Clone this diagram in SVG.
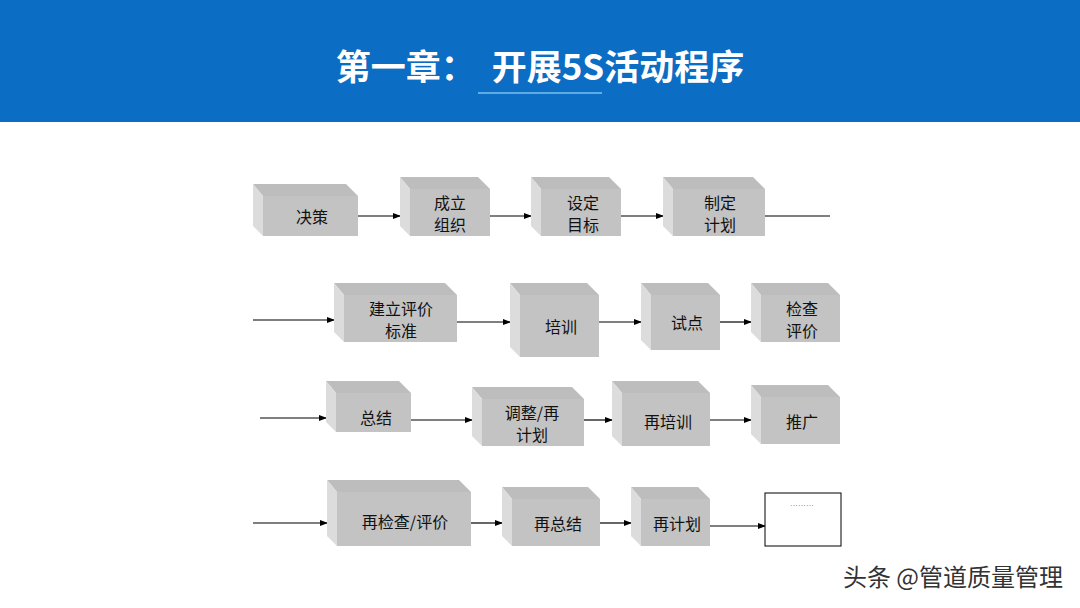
<svg xmlns="http://www.w3.org/2000/svg" width="1080" height="608" viewBox="0 0 1080 608">
<style>
.t{fill:#bdbdbd}.l{fill:#dcdcdc}.f{fill:#c3c3c3}
.tx{font-family:"Noto Sans CJK SC","Liberation Sans",sans-serif;font-size:16px;fill:#111;text-anchor:middle}
.c line{stroke:#000;stroke-width:1.2}
</style>
<defs>
<marker id="a" markerWidth="8" markerHeight="8" refX="7" refY="4" orient="auto" markerUnits="userSpaceOnUse"><path d="M0,1 L8,4 L0,7 Z" fill="#000"/></marker>
</defs>
<rect width="1080" height="608" fill="#fff"/>
<rect width="1080" height="122" fill="#0b6dc3"/>
<text x="540" y="80" text-anchor="middle" font-family="Noto Sans CJK SC,sans-serif" font-weight="bold" font-size="35" fill="#fff" xml:space="preserve">第一章：  开展5S活动程序</text>
<line x1="478" y1="93" x2="602" y2="93" stroke="#7fc0f0" stroke-width="1.5"/>
<g class="c">
<line x1="358" y1="216" x2="400" y2="216" marker-end="url(#a)"/>
<line x1="490" y1="216" x2="531" y2="216" marker-end="url(#a)"/>
<line x1="621" y1="216" x2="663" y2="216" marker-end="url(#a)"/>
<line x1="765" y1="216" x2="830" y2="216"/>
<line x1="253" y1="320" x2="334" y2="320" marker-end="url(#a)"/>
<line x1="457" y1="322" x2="510" y2="322" marker-end="url(#a)"/>
<line x1="599" y1="322" x2="641" y2="322" marker-end="url(#a)"/>
<line x1="720" y1="322" x2="751" y2="322" marker-end="url(#a)"/>
<line x1="260" y1="418" x2="326" y2="418" marker-end="url(#a)"/>
<line x1="411" y1="420" x2="472" y2="420" marker-end="url(#a)"/>
<line x1="584" y1="420" x2="612" y2="420" marker-end="url(#a)"/>
<line x1="710" y1="420" x2="751" y2="420" marker-end="url(#a)"/>
<line x1="253" y1="523" x2="327" y2="523" marker-end="url(#a)"/>
<line x1="471" y1="523" x2="502" y2="523" marker-end="url(#a)"/>
<line x1="600" y1="523" x2="631" y2="523" marker-end="url(#a)"/>
<line x1="710" y1="526" x2="765" y2="526" marker-end="url(#a)"/>
</g>
<g id="n1"><path class="t" d="M253,184H346L358,196H263Z"/><path class="l" d="M253,184L263,196V236L253,226Z"/><rect class="f" x="263" y="196" width="95" height="40"/><text class="tx" x="312" y="223">决策</text></g>
<g id="n2"><path class="t" d="M400,177H478L490,189H410Z"/><path class="l" d="M400,177L410,189V236L400,226Z"/><rect class="f" x="410" y="189" width="80" height="47"/><text class="tx" x="450" y="209">成立</text><text class="tx" x="450" y="231">组织</text></g>
<g id="n3"><path class="t" d="M531,177H609L621,189H541Z"/><path class="l" d="M531,177L541,189V236L531,226Z"/><rect class="f" x="541" y="189" width="80" height="47"/><text class="tx" x="583" y="209">设定</text><text class="tx" x="583" y="231">目标</text></g>
<g id="n4"><path class="t" d="M663,177H753L765,189H673Z"/><path class="l" d="M663,177L673,189V236L663,226Z"/><rect class="f" x="673" y="189" width="92" height="47"/><text class="tx" x="720" y="209">制定</text><text class="tx" x="720" y="231">计划</text></g>
<g id="n5"><path class="t" d="M334,283H445L457,295H344Z"/><path class="l" d="M334,283L344,295V342L334,332Z"/><rect class="f" x="344" y="295" width="113" height="47"/><text class="tx" x="401" y="315">建立评价</text><text class="tx" x="401" y="337">标准</text></g>
<g id="n6"><path class="t" d="M510,283H587L599,295H520Z"/><path class="l" d="M510,283L520,295V357L510,347Z"/><rect class="f" x="520" y="295" width="79" height="62"/><text class="tx" x="561" y="333">培训</text></g>
<g id="n7"><path class="t" d="M641,283H708L720,295H651Z"/><path class="l" d="M641,283L651,295V350L641,340Z"/><rect class="f" x="651" y="295" width="69" height="55"/><text class="tx" x="687" y="329">试点</text></g>
<g id="n8"><path class="t" d="M751,283H828L840,295H761Z"/><path class="l" d="M751,283L761,295V342L751,332Z"/><rect class="f" x="761" y="295" width="79" height="47"/><text class="tx" x="802" y="315">检查</text><text class="tx" x="802" y="337">评价</text></g>
<g id="n9"><path class="t" d="M326,381H399L411,393H336Z"/><path class="l" d="M326,381L336,393V432L326,422Z"/><rect class="f" x="336" y="393" width="75" height="39"/><text class="tx" x="376" y="424">总结</text></g>
<g id="n10"><path class="t" d="M472,387H572L584,399H482Z"/><path class="l" d="M472,387L482,399V446L472,436Z"/><rect class="f" x="482" y="399" width="102" height="47"/><text class="tx" x="532" y="419">调整/再</text><text class="tx" x="532" y="441">计划</text></g>
<g id="n11"><path class="t" d="M612,381H698L710,393H622Z"/><path class="l" d="M612,381L622,393V446L612,436Z"/><rect class="f" x="622" y="393" width="88" height="53"/><text class="tx" x="668" y="428">再培训</text></g>
<g id="n12"><path class="t" d="M751,385H828L840,397H761Z"/><path class="l" d="M751,385L761,397V444L751,434Z"/><rect class="f" x="761" y="397" width="79" height="47"/><text class="tx" x="802" y="428">推广</text></g>
<g id="n13"><path class="t" d="M327,480H459L471,492H337Z"/><path class="l" d="M327,480L337,492V546L327,536Z"/><rect class="f" x="337" y="492" width="134" height="54"/><text class="tx" x="405" y="528">再检查/评价</text></g>
<g id="n14"><path class="t" d="M502,487H588L600,499H512Z"/><path class="l" d="M502,487L512,499V546L502,536Z"/><rect class="f" x="512" y="499" width="88" height="47"/><text class="tx" x="558" y="530">再总结</text></g>
<g id="n15"><path class="t" d="M631,487H698L710,499H641Z"/><path class="l" d="M631,487L641,499V546L631,536Z"/><rect class="f" x="641" y="499" width="69" height="47"/><text class="tx" x="677" y="530">再计划</text></g>
<g id="n16"><rect x="765" y="493" width="76" height="53" fill="#fff" stroke="#000" stroke-width="1"/><text x="802" y="506" text-anchor="middle" font-family="Liberation Sans,sans-serif" font-size="8" fill="#555">………</text></g>
<text x="1063" y="586" text-anchor="end" font-family="Noto Sans CJK SC,sans-serif" font-size="24" fill="#333">头条 @管道质量管理</text>
</svg>
